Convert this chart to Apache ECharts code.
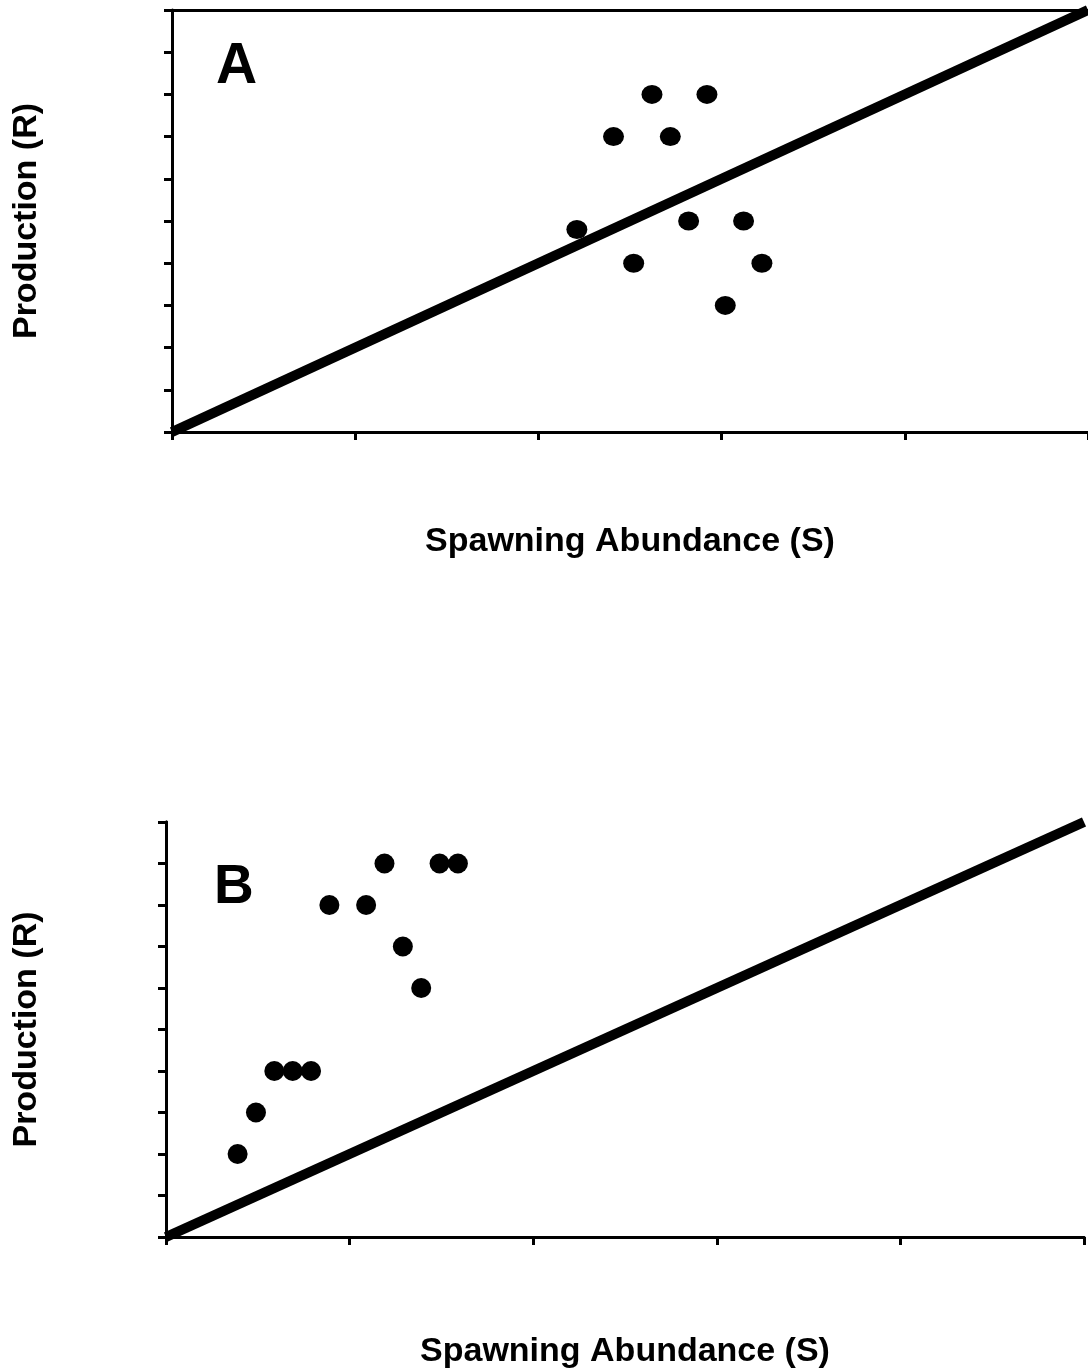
<!DOCTYPE html>
<html>
<head>
<meta charset="utf-8">
<script src="https://cdn.jsdelivr.net/npm/echarts@6/dist/echarts.min.js"></script>
<style>
  html, body { margin: 0; padding: 0; background: #fff; }
  #main { width: 1088px; height: 1370px; }
</style>
</head>
<body>
<div id="main"></div>
<script>
(() => {
  const chart = echarts.init(document.getElementById('main'));

  // panel A: points scattered around the replacement line
  const pointsA = [
    [26.2, 8], [29.2, 8],
    [24.1, 7], [27.2, 7],
    [22.1, 4.8], [28.2, 5], [31.2, 5],
    [25.2, 4], [32.2, 4],
    [30.2, 3]
  ];
  // panel B: points all above the line
  const pointsB = [
    [3.9, 2], [4.9, 3],
    [5.9, 4], [6.9, 4], [7.9, 4],
    [8.9, 8], [10.9, 8],
    [11.9, 9], [12.9, 7], [13.9, 6],
    [14.9, 9], [15.9, 9]
  ];
  // replacement line R = S
  const lineA = [[0, 0], [50, 10]];
  const lineB = [[0, 0], [50, 10]];

  const xMax = 50;
  const yMax = 10;
  const font = 'Liberation Sans, Arial, sans-serif';

  const axisLine = { show: true, lineStyle: { color: '#000', width: 3 } };
  const axisTick = { show: true, inside: false, length: 8, lineStyle: { color: '#000', width: 3 } };
  const nameStyle = { fontSize: 34, fontWeight: 'bold', color: '#000', fontFamily: font };

  const xAxis = (gridIndex, gap) => ({
    type: 'value',
    gridIndex,
    min: 0,
    max: xMax,
    interval: 10,
    splitLine: { show: false },
    axisLine,
    axisTick,
    axisLabel: { show: false },
    name: 'Spawning Abundance (S)',
    nameLocation: 'middle',
    nameGap: gap,
    nameTextStyle: nameStyle
  });

  const yAxis = (gridIndex, gap) => ({
    type: 'value',
    gridIndex,
    min: 0,
    max: yMax,
    interval: 1,
    splitLine: { show: false },
    axisLine,
    axisTick,
    axisLabel: { show: false },
    name: 'Production (R)',
    nameLocation: 'middle',
    nameGap: gap,
    nameTextStyle: nameStyle
  });

  // top (and right) frame lines, no ticks
  const frameX = gridIndex => ({
    type: 'value', gridIndex, position: 'top', min: 0, max: xMax,
    axisLine, axisTick: { show: false }, axisLabel: { show: false }, splitLine: { show: false }
  });
  const frameY = gridIndex => ({
    type: 'value', gridIndex, position: 'right', min: 0, max: yMax,
    axisLine, axisTick: { show: false }, axisLabel: { show: false }, splitLine: { show: false }
  });

  const option = {
    animation: false,
    backgroundColor: '#fff',
    grid: [
      { left: 172, top: 10, width: 916, height: 422 },
      { left: 166, top: 822, width: 918, height: 419 }
    ],
    xAxis: [xAxis(0, 93), xAxis(1, 98), frameX(0), frameX(1)],
    yAxis: [yAxis(0, 128), yAxis(1, 122), frameY(1)],
    graphic: [
      { type: 'text', left: 216, top: 39, style: { text: 'A', font: 'bold 57px ' + font, fill: '#000' } },
      { type: 'text', left: 214, top: 860, style: { text: 'B', font: 'bold 55px ' + font, fill: '#000' } }
    ],
    series: [
      {
        type: 'line', xAxisIndex: 0, yAxisIndex: 0, data: lineA,
        showSymbol: false, lineStyle: { color: '#000', width: 10 }, z: 2
      },
      {
        type: 'scatter', xAxisIndex: 0, yAxisIndex: 0, data: pointsA,
        symbol: 'circle', symbolSize: [21, 19], itemStyle: { color: '#000', opacity: 1 }, z: 3
      },
      {
        type: 'line', xAxisIndex: 1, yAxisIndex: 1, data: lineB,
        showSymbol: false, lineStyle: { color: '#000', width: 10 }, z: 2
      },
      {
        type: 'scatter', xAxisIndex: 1, yAxisIndex: 1, data: pointsB,
        symbol: 'circle', symbolSize: 20, itemStyle: { color: '#000', opacity: 1 }, z: 3
      }
    ]
  };

  chart.setOption(option);
})();
</script>
</body>
</html>
